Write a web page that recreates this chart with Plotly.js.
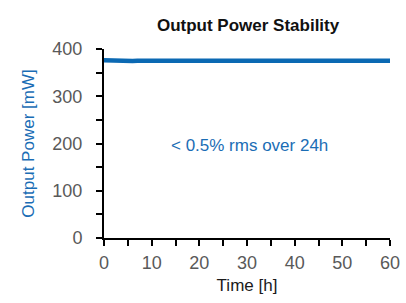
<!DOCTYPE html>
<html>
<head>
<meta charset="utf-8">
<script src="https://cdn.plot.ly/plotly-3.0.1.min.js"></script>
<style>html,body{margin:0;padding:0;background:#fff;}#chart{width:406px;height:303px;}</style>
</head>
<body>
<div id="chart"></div>
<script>
var timeHours = [0,1,2,3,4,5,6,7,8,9,10,11,12,13,14,15,16,17,18,19,20,21,22,23,24,25,26,27,28,29,30,31,32,33,34,35,36,37,38,39,40,41,42,43,44,45,46,47,48,49,50,51,52,53,54,55,56,57,58,59,60];
var powerMW = [376,375.5,375,374.8,374.6,374.6,374.8,375,375,375,375,375,375,375,375,375,375,375,375,375,375,375,375,375,375,375,375,375,375,375,375,375,375,375,375,375,375,375,375,375,375.2,375.6,375.8,375.4,375,374.8,374.8,375,375,375,375,375,375,375,375,375,375,375,375,375,375];
var chartTitle = "Output Power Stability";
var xTitle = "Time [h]";
var yTitle = "Output Power [mW]";
var noteText = "< 0.5% rms over 24h";
var noteX = 30.6, noteY = 195;

var F = "'Liberation Sans', Arial, sans-serif";
var blue = "#1a6db5";

var trace = {x: timeHours, y: powerMW, type: 'scatter', mode: 'lines',
  line: {color: '#0b69b3', width: 4.5}, hoverinfo: 'skip'};

var layout = {
  width: 406, height: 303,
  margin: {l: 104, r: 16, t: 49, b: 65},
  paper_bgcolor: '#fff', plot_bgcolor: '#fff',
  showlegend: false,
  title: {text: '<b>' + chartTitle + '</b>', x: 0.611, xanchor: 'center', y: 0.917, yanchor: 'middle',
    font: {family: F, size: 17, color: '#111'}},
  xaxis: {range: [0, 60], dtick: 10, tick0: 0, showgrid: false, zeroline: false,
    showline: true, linecolor: '#000', linewidth: 2,
    ticks: 'outside', ticklen: 6, tickwidth: 2, tickcolor: '#000',
    minor: {dtick: 5, ticks: 'outside', ticklen: 6, tickwidth: 2, tickcolor: '#000'},
    tickfont: {family: F, size: 18, color: '#595959'}, ticklabelstandoff: 1,
    title: {text: xTitle, font: {family: F, size: 17, color: '#1a1a1a'}, standoff: 8}},
  yaxis: {range: [0, 400], dtick: 100, tick0: 0, showgrid: false, zeroline: false,
    showline: true, linecolor: '#000', linewidth: 2,
    ticks: 'outside', ticklen: 6, tickwidth: 2, tickcolor: '#000',
    minor: {dtick: 50, ticks: 'outside', ticklen: 6, tickwidth: 2, tickcolor: '#000'},
    tickfont: {family: F, size: 18, color: '#595959'}, ticklabelstandoff: 10,
    title: {text: yTitle, font: {family: F, size: 17, color: blue}, standoff: 13}},
  annotations: [{x: noteX, y: noteY, xref: 'x', yref: 'y', text: noteText, showarrow: false,
    font: {family: F, size: 17, color: blue}}]
};
Plotly.newPlot('chart', [trace], layout, {staticPlot: true, displayModeBar: false});
</script>
</body>
</html>
